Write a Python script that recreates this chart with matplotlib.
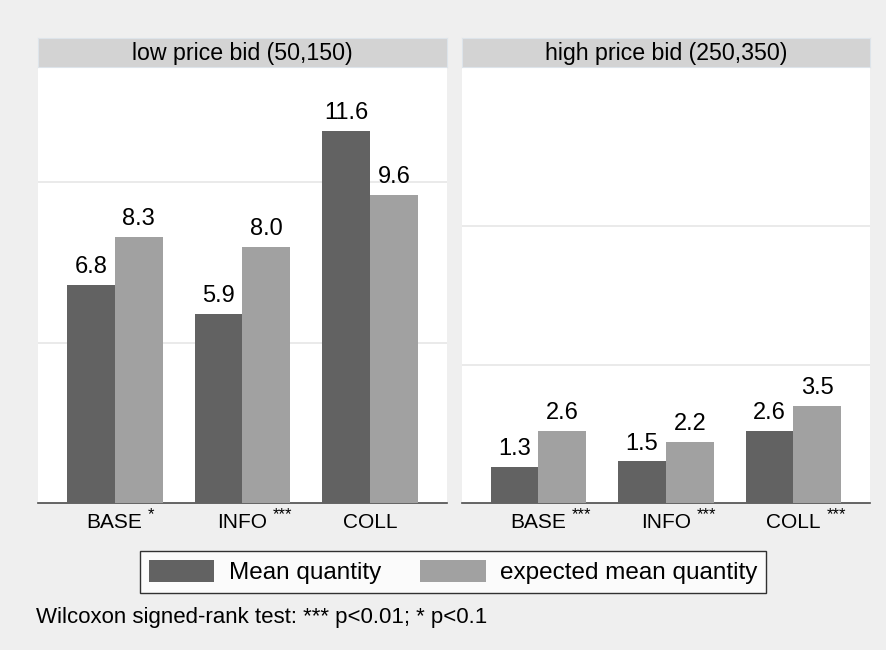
import numpy as np
import matplotlib.pyplot as plt
from matplotlib.patches import Patch

plt.rcParams['font.family'] = ['Liberation Sans', 'DejaVu Sans']

groups = ['BASE', 'INFO', 'COLL']
panels = ['low price bid (50,150)', 'high price bid (250,350)']
mean_qty = [[6.8, 5.9, 11.6], [1.3, 1.5, 2.6]]
expected_qty = [[8.3, 8.0, 9.6], [2.6, 2.2, 3.5]]
stars = [['*', '***', ''], ['***', '***', '***']]
y_top = [13.6, 15.75]

DARK = '#626262'
LIGHT = '#a1a1a1'
BG = '#efefef'

fig = plt.figure(figsize=(8.87, 6.5), dpi=100, facecolor=BG)
W, H = 887, 650


def px_axes(x0, y0, x1, y1):
    # pixel box (top-left origin) -> figure axes
    return fig.add_axes([x0 / W, 1 - y1 / H, (x1 - x0) / W, (y1 - y0) / H])


x = np.arange(len(groups))
bw = 0.375
for i, (x0, x1) in enumerate([(38, 447), (462, 870)]):
    ax = px_axes(x0, 67, x1, 503)
    ax.set_facecolor('white')
    ax.bar(x - bw / 2, mean_qty[i], bw, color=DARK, zorder=3)
    ax.bar(x + bw / 2, expected_qty[i], bw, color=LIGHT, zorder=3)
    for xi, a, b in zip(x, mean_qty[i], expected_qty[i]):
        ax.annotate(f'{a:.1f}', (xi - bw / 2, a), xytext=(0, 5),
                    textcoords='offset points', ha='center', va='bottom', fontsize=17)
        ax.annotate(f'{b:.1f}', (xi + bw / 2, b), xytext=(0, 5),
                    textcoords='offset points', ha='center', va='bottom', fontsize=17)
    ax.set_xlim(-0.6, 2.6)
    ax.set_ylim(0, y_top[i])
    ax.set_yticks([5, 10])
    ax.yaxis.grid(True, color='#e6e6e6', lw=1.2, zorder=0)
    ax.tick_params(axis='y', length=0, labelleft=False)
    ax.set_xticks(x)
    labels = ax.set_xticklabels(groups, fontsize=15)
    ax.tick_params(axis='x', length=0, pad=7)
    for s in ['top', 'left', 'right']:
        ax.spines[s].set_visible(False)
    ax.spines['bottom'].set_color('#4b4b4b')
    ax.spines['bottom'].set_linewidth(1.2)
    # significance stars raised just after each category label
    for lab, st in zip(labels, stars[i]):
        if st:
            ax.annotate(st, (1, 1), xycoords=lab, xytext=(4, 4),
                        textcoords='offset points', ha='left', va='top',
                        fontsize=12, annotation_clip=False)

    hd = px_axes(x0, 38, x1, 67)
    hd.set_facecolor('#d3d3d3')
    hd.set_xticks([])
    hd.set_yticks([])
    for s in hd.spines.values():
        s.set_color('#dde4ea')
    hd.text(0.5, 0.48, panels[i], ha='center', va='center', fontsize=16.7,
            transform=hd.transAxes)

handles = [Patch(facecolor=DARK, label='Mean quantity'),
           Patch(facecolor=LIGHT, label='expected mean quantity')]
leg = fig.legend(handles=handles, loc='center', bbox_to_anchor=(453 / W, 1 - 572 / H),
                 ncol=2, fontsize=17.5, frameon=True, fancybox=False,
                 edgecolor='black', handlelength=2.7, handleheight=1.0,
                 columnspacing=1.6, borderpad=0.3, handletextpad=0.6,
                 borderaxespad=0)
leg.get_frame().set_linewidth(1.0)
leg._legend_box.pad = 0
leg.get_frame().set_boxstyle('square', pad=0.35)

fig.text(36 / W, 1 - 618 / H, 'Wilcoxon signed-rank test: *** p<0.01; * p<0.1',
         ha='left', va='center', fontsize=16)

fig.savefig('out.png', dpi=100, facecolor=BG)
